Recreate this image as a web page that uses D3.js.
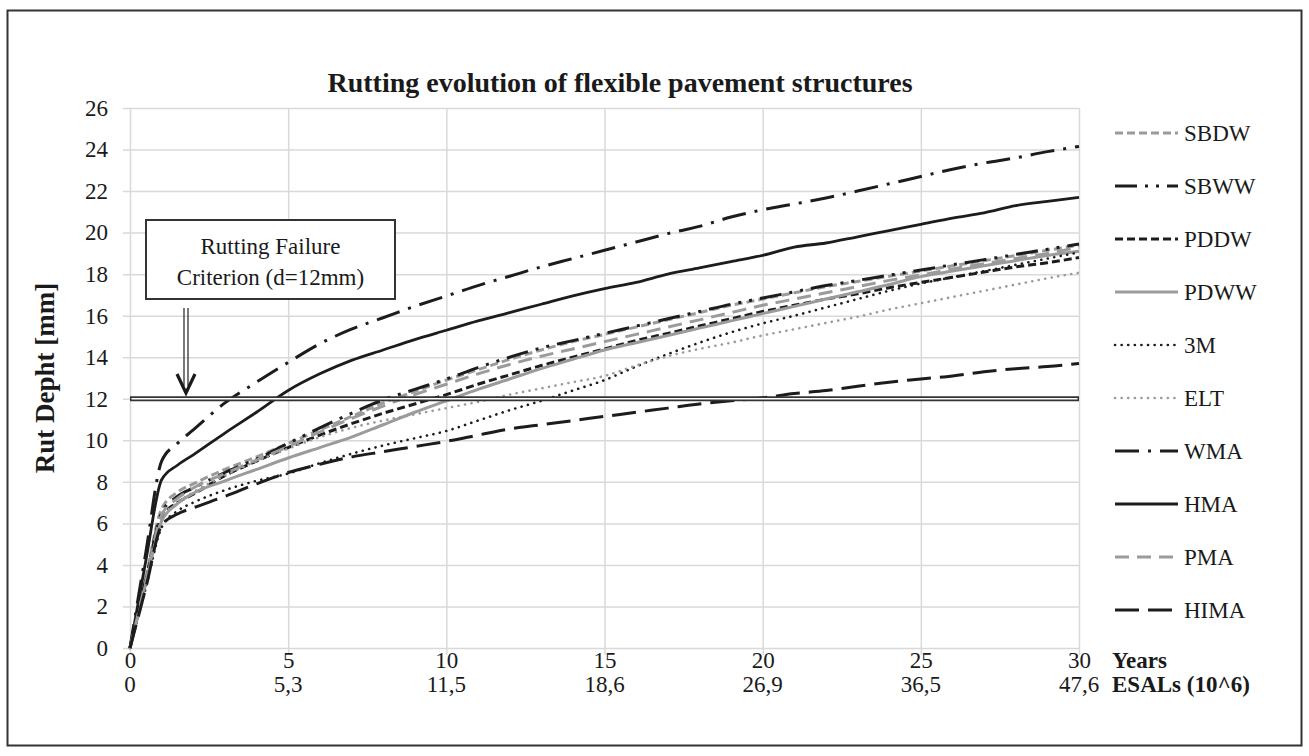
<!DOCTYPE html>
<html>
<head>
<meta charset="utf-8">
<script src="https://cdn.jsdelivr.net/npm/d3@7"></script>
<style>
  html, body { margin: 0; padding: 0; background: #fff; }
  svg text { font-family: "Liberation Serif", "Times New Roman", serif; fill: #1a1a1a; }
</style>
</head>
<body>
<svg id="chart" width="1309" height="756"></svg>
<script>
// ---------- DATA ----------
const years = [0, 0.5, 1, 1.5, 2, 3, 4, 5, 6, 7, 8, 9, 10, 11, 12, 13, 14, 15, 16, 17, 18, 19, 20, 21, 22, 23, 24, 25, 26, 27, 28, 29, 30];
const yearTicks = [0, 5, 10, 15, 20, 25, 30];
const esalLabels = ["0", "5,3", "11,5", "18,6", "26,9", "36,5", "47,6"];
const rutTicks = [0, 2, 4, 6, 8, 10, 12, 14, 16, 18, 20, 22, 24, 26];
const failureCriterion = 12;

const SBDW = [0, 3.4, 6.7, 7.5, 7.9, 8.6, 9.2, 9.85, 10.5, 11.15, 11.8, 12.35, 12.9, 13.4, 13.9, 14.35, 14.75, 15.1, 15.45, 15.8, 16.15, 16.5, 16.8, 17.1, 17.4, 17.65, 17.9, 18.15, 18.4, 18.65, 18.9, 19.15, 19.4];
const SBWW = [0, 3.3, 6.5, 7.3, 7.7, 8.45, 9.1, 9.85, 10.6, 11.3, 11.95, 12.45, 12.95, 13.5, 14.0, 14.45, 14.8, 15.15, 15.5, 15.85, 16.2, 16.55, 16.85, 17.15, 17.45, 17.7, 17.95, 18.2, 18.45, 18.7, 18.95, 19.2, 19.45];
const PDDW = [0, 3.2, 6.3, 7.0, 7.4, 8.3, 9.0, 9.65, 10.25, 10.8, 11.3, 11.75, 12.2, 12.7, 13.15, 13.6, 14.0, 14.4, 14.8, 15.15, 15.5, 15.85, 16.2, 16.5, 16.8, 17.05, 17.35, 17.6, 17.85, 18.1, 18.35, 18.55, 18.8];
const PDWW = [0, 3.1, 6.1, 6.95, 7.45, 8.05, 8.6, 9.15, 9.65, 10.15, 10.75, 11.35, 11.9, 12.45, 12.95, 13.45, 13.9, 14.35, 14.7, 15.05, 15.4, 15.75, 16.1, 16.45, 16.8, 17.15, 17.5, 17.88, 18.15, 18.4, 18.65, 18.9, 19.1];
const M3 = [0, 2.9, 5.8, 6.6, 7.0, 7.6, 8.05, 8.4, 8.9, 9.35, 9.75, 10.1, 10.45, 10.95, 11.45, 11.9, 12.4, 12.9, 13.55, 14.15, 14.7, 15.2, 15.63, 16.0, 16.4, 16.8, 17.2, 17.55, 17.85, 18.15, 18.45, 18.75, 19.05];
const ELT = [0, 3.1, 6.2, 7.0, 7.5, 8.3, 9.0, 9.6, 10.15, 10.6, 10.95, 11.25, 11.55, 11.85, 12.2, 12.5, 12.8, 13.1, 13.6, 14.05, 14.4, 14.7, 15.05, 15.35, 15.65, 15.95, 16.3, 16.6, 16.9, 17.2, 17.5, 17.8, 18.07];
const WMA = [0, 4.6, 9.0, 9.85, 10.5, 11.8, 12.8, 13.75, 14.65, 15.35, 15.9, 16.45, 16.95, 17.45, 17.9, 18.35, 18.75, 19.15, 19.55, 19.95, 20.3, 20.75, 21.1, 21.38, 21.67, 22.0, 22.35, 22.7, 23.05, 23.35, 23.6, 23.9, 24.15];
const HMA = [0, 4.2, 8.1, 8.8, 9.3, 10.35, 11.35, 12.4, 13.2, 13.85, 14.35, 14.85, 15.3, 15.75, 16.15, 16.55, 16.95, 17.3, 17.6, 18.0, 18.3, 18.6, 18.9, 19.3, 19.5, 19.8, 20.1, 20.4, 20.7, 20.95, 21.3, 21.5, 21.7];
const PMA = [0, 3.2, 6.4, 7.2, 7.7, 8.4, 9.05, 9.7, 10.4, 11.05, 11.65, 12.2, 12.7, 13.2, 13.65, 14.05, 14.4, 14.75, 15.1, 15.45, 15.8, 16.15, 16.5, 16.8, 17.1, 17.4, 17.7, 17.96, 18.25, 18.5, 18.75, 19.0, 19.3];
const HIMA = [0, 2.9, 5.9, 6.45, 6.75, 7.3, 7.9, 8.45, 8.85, 9.2, 9.45, 9.7, 9.95, 10.25, 10.55, 10.75, 10.95, 11.15, 11.35, 11.55, 11.75, 11.9, 12.05, 12.25, 12.4, 12.6, 12.8, 12.95, 13.1, 13.3, 13.45, 13.55, 13.7];

const seriesNames = ["SBDW", "SBWW", "PDDW", "PDWW", "3M", "ELT", "WMA", "HMA", "PMA", "HIMA"];
const seriesValues = [SBDW, SBWW, PDDW, PDWW, M3, ELT, WMA, HMA, PMA, HIMA];

// ---------- STYLES ----------
const GRAY = "#9b9b9b", BLACK = "#1c1c1c";
const styles = {
  "SBDW": { color: GRAY,  width: 3,   dash: "8,4",              cap: "butt" },
  "SBWW": { color: BLACK, width: 3,   dash: "22,8,3,8,3,8",     cap: "butt" },
  "PDDW": { color: BLACK, width: 3,   dash: "8,4",              cap: "butt" },
  "PDWW": { color: GRAY,  width: 3,   dash: null,               cap: "butt" },
  "3M":   { color: BLACK, width: 2.6, dash: "0.1,6.5",          cap: "round" },
  "ELT":  { color: GRAY,  width: 2.6, dash: "0.1,6.5",          cap: "round" },
  "WMA":  { color: BLACK, width: 3,   dash: "24,9,3,9",         cap: "butt" },
  "HMA":  { color: BLACK, width: 2.8, dash: null,               cap: "butt" },
  "PMA":  { color: GRAY,  width: 3,   dash: "14,8",             cap: "butt" },
  "HIMA": { color: BLACK, width: 3,   dash: "24,9",             cap: "butt" }
};

// ---------- LAYOUT ----------
const svg = d3.select("#chart");
const M = { left: 130, top: 108, right: 1079, bottom: 648 };
const W = M.right - M.left;
const x = d3.scaleLinear().domain([0, 30]).range([M.left, M.right]);
const y = d3.scaleLinear().domain([0, 26]).range([M.bottom, M.top]);
const GRID = "#d9d9d9";
const FS = 23;

// outer frame
svg.append("rect").attr("x", 7.5).attr("y", 10.5).attr("width", 1294).attr("height", 735)
  .attr("fill", "none").attr("stroke", "#333").attr("stroke-width", 2);

// title
svg.append("text").attr("x", 620).attr("y", 92)
  .attr("text-anchor", "middle").attr("font-weight", "bold").attr("font-size", 28)
  .text("Rutting evolution of flexible pavement structures");

// horizontal gridlines (with outside tick stubs)
const gridY = svg.append("g").attr("transform", `translate(${M.left - 7},0)`)
  .call(d3.axisLeft(y).tickValues(rutTicks).tickSize(-(W + 7)).tickFormat(""));
gridY.select(".domain").remove();
gridY.selectAll(".tick line").attr("stroke", GRID).attr("stroke-width", 1.5);

// vertical gridlines
const gridX = svg.append("g").attr("transform", `translate(0,${M.top})`)
  .call(d3.axisBottom(x).tickValues(yearTicks).tickSize(M.bottom - M.top + 7).tickFormat(""));
gridX.select(".domain").remove();
gridX.selectAll(".tick line").attr("stroke", GRID).attr("stroke-width", 1.5);

// y axis labels
const yAx = svg.append("g").attr("transform", `translate(${M.left},0)`)
  .call(d3.axisLeft(y).tickValues(rutTicks).tickSize(0).tickPadding(22));
yAx.select(".domain").remove();
yAx.selectAll("text").attr("font-size", FS).attr("font-family", "Liberation Serif").attr("fill", "#1a1a1a");

// x axis labels: years row
const xAx = svg.append("g").attr("transform", `translate(0,${M.bottom})`)
  .call(d3.axisBottom(x).tickValues(yearTicks).tickSize(0).tickPadding(0).tickFormat(d3.format("d")));
xAx.select(".domain").remove();
xAx.selectAll("text").attr("font-size", FS).attr("font-family", "Liberation Serif").attr("fill", "#1a1a1a")
  .attr("dy", null).attr("y", 20);

// second row: ESALs
svg.append("g").selectAll("text").data(yearTicks).join("text")
  .attr("x", d => x(d)).attr("y", 692).attr("text-anchor", "middle").attr("font-size", FS)
  .text((d, i) => esalLabels[i]);

svg.append("text").attr("x", 1112).attr("y", 668).attr("font-weight", "bold").attr("font-size", FS).text("Years");
svg.append("text").attr("x", 1112).attr("y", 692).attr("font-weight", "bold").attr("font-size", FS).text("ESALs (10^6)");

// y axis title
svg.append("text").attr("transform", `translate(54,${(M.top + M.bottom) / 2}) rotate(-90)`)
  .attr("text-anchor", "middle").attr("font-weight", "bold").attr("font-size", 27).text("Rut Depht [mm]");

// series
const line = d3.line().x((d, i) => x(years[i])).y(d => y(d)).curve(d3.curveMonotoneX);
const gLines = svg.append("g").attr("fill", "none");
seriesNames.forEach((name, k) => {
  const s = styles[name];
  gLines.append("path").datum(seriesValues[k]).attr("d", line)
    .attr("stroke", s.color).attr("stroke-width", s.width)
    .attr("stroke-dasharray", s.dash).attr("stroke-linecap", s.cap)
    .attr("stroke-linejoin", "round");
});

// failure criterion double line
const fy = y(failureCriterion);
svg.append("line").attr("x1", x(0)).attr("x2", x(30)).attr("y1", fy).attr("y2", fy)
  .attr("stroke", "#333").attr("stroke-width", 5);
svg.append("line").attr("x1", x(0) + 1.5).attr("x2", x(30) - 1.5).attr("y1", fy).attr("y2", fy)
  .attr("stroke", "#fff").attr("stroke-width", 1.4);

// annotation box
svg.append("rect").attr("x", 146).attr("y", 220).attr("width", 249).attr("height", 79)
  .attr("fill", "#fff").attr("stroke", "#333").attr("stroke-width", 2);
svg.append("text").attr("x", 270.5).attr("y", 254).attr("text-anchor", "middle").attr("font-size", FS).text("Rutting Failure");
svg.append("text").attr("x", 270.5).attr("y", 285).attr("text-anchor", "middle").attr("font-size", FS).text("Criterion (d=12mm)");

// arrow (double shaft)
const ax = 186;
svg.append("line").attr("x1", ax - 2).attr("x2", ax - 2).attr("y1", 308).attr("y2", 386).attr("stroke", "#333").attr("stroke-width", 1.3);
svg.append("line").attr("x1", ax + 2).attr("x2", ax + 2).attr("y1", 308).attr("y2", 386).attr("stroke", "#333").attr("stroke-width", 1.3);
svg.append("path").attr("d", `M${ax - 9},${374} L${ax},${393} L${ax + 9},${374}`)
  .attr("fill", "none").attr("stroke", "#1a1a1a").attr("stroke-width", 3.2).attr("stroke-linejoin", "miter");

// legend
const lg = svg.append("g");
seriesNames.forEach((name, k) => {
  const s = styles[name];
  const ly = 133 + k * 53;
  lg.append("line").attr("x1", 1115).attr("x2", 1178).attr("y1", ly).attr("y2", ly)
    .attr("stroke", s.color).attr("stroke-width", s.width)
    .attr("stroke-dasharray", s.dash).attr("stroke-linecap", s.cap);
  lg.append("text").attr("x", 1184).attr("y", ly).attr("dy", "0.35em").attr("font-size", FS).text(name);
});
</script>
</body>
</html>
